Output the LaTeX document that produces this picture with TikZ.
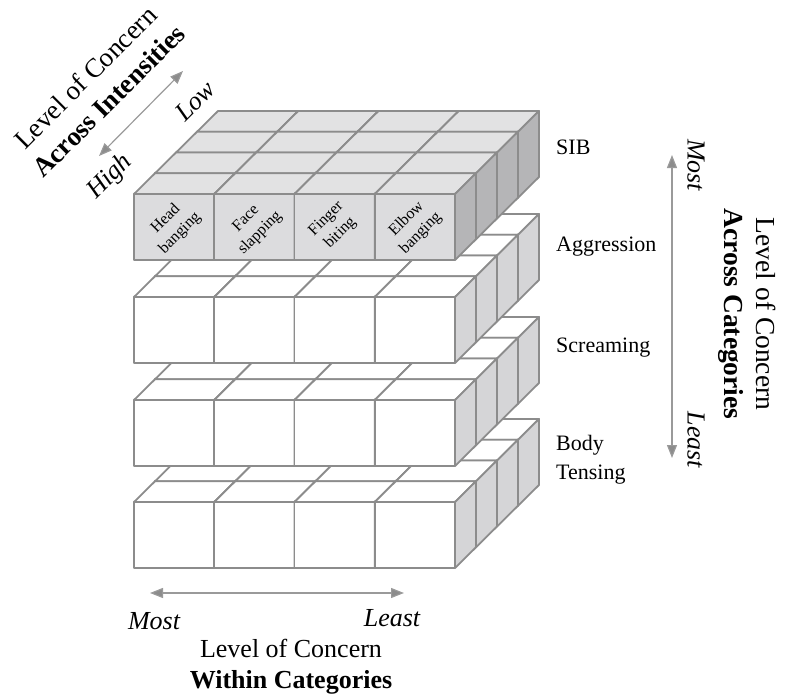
\documentclass[tikz,border=0pt]{standalone}
\usepackage{fontspec}
\setmainfont{Liberation Serif}
\usetikzlibrary{arrows.meta}

\definecolor{edge}{HTML}{8C8C8C}
\definecolor{arrowgray}{HTML}{9A9A9A}
\definecolor{sibfront}{HTML}{DCDCDE}
\definecolor{sibtop}{HTML}{E2E2E3}
\definecolor{sibside}{HTML}{B5B5B7}
\definecolor{lowside}{HTML}{D5D5D7}

% one layer of 4 x 4 cubes, painted back to front
% #1 y of the front top edge, #2 front fill, #3 top fill, #4 side fill
\newcommand\cubelayer[4]{%
  \foreach \d in {3,2,1,0}{%
    \foreach \i in {0,1,2,3}{%
      \pgfmathsetmacro\xa{134+80.25*\i+21*\d}%
      \pgfmathsetmacro\ya{#1-20.75*\d}%
      \draw[cube,fill=#2] (\xa,\ya) rectangle ++(80.25,66);
      \draw[cube,fill=#3] (\xa,\ya) -- ++(80.25,0) -- ++(21,-20.75) -- ++(-80.25,0) -- cycle;
      \draw[cube,fill=#4] (\xa+80.25,\ya) -- ++(0,66) -- ++(21,-20.75) -- ++(0,-66) -- cycle;
    }%
  }%
}

\begin{document}
\begin{tikzpicture}[x=1pt,y=-1pt,
  cube/.style={draw=edge,line width=1.8pt,line join=round},
  axistitle/.style={font=\fontsize{26}{31}\selectfont,align=center,inner sep=0pt},
  endlabel/.style={font=\fontsize{26}{31}\selectfont\itshape,inner sep=0pt},
  rowlabel/.style={font=\fontsize{22}{29}\selectfont,align=left,anchor=west,inner sep=0pt},
  cubelabel/.style={font=\fontsize{16}{20}\selectfont,align=center,inner sep=0pt,rotate=45},
  scale arrow/.style={draw=arrowgray,line width=1.2pt,
    {Triangle[length=13pt,width=10pt,fill=edge]}-{Triangle[length=13pt,width=10pt,fill=edge]}}]
\useasboundingbox (0,0) rectangle (785,697);

% stacked layers, lowest first
\cubelayer{502}{white}{white}{lowside}
\cubelayer{400}{white}{white}{lowside}
\cubelayer{297}{white}{white}{lowside}
\cubelayer{194}{sibfront}{sibtop}{sibside}

% behaviours on the front row of the top layer
\node[cubelabel] (hb) at (173,226) {Head\\banging};
\node[cubelabel] (fs) at (253.3,226) {Face\\slapping};
\node[cubelabel] (fb) at (333.5,226) {Finger\\biting};
\node[cubelabel] (eb) at (413.8,226) {Elbow\\banging};

% category names
\node[rowlabel] (sib) at (556,147) {SIB};
\node[rowlabel] (agg) at (556,247) {Aggression};
\node[rowlabel] (scr) at (556,348) {Screaming};
\node[rowlabel] (bod) at (556,460) {Body\\Tensing};

% across categories (vertical scale)
\coordinate (catTop) at (672,155);
\coordinate (catBot) at (672,458);
\draw[scale arrow] (catTop) -- (catBot);
\node[endlabel,rotate=-90] (catMost) at (696,165) {Most};
\node[endlabel,rotate=-90] (catLeast) at (696,440) {Least};
\node[axistitle,font=\fontsize{27.5}{32}\selectfont,rotate=-90] (catTitle) at (747,314) {Level of Concern\\\textbf{Across Categories}};

% within categories (horizontal scale)
\coordinate (inLeft) at (150,593);
\coordinate (inRight) at (404,593);
\draw[scale arrow] (inLeft) -- (inRight);
\node[endlabel] (inMost) at (154,621) {Most};
\node[endlabel] (inLeast) at (392,618) {Least};
\node[axistitle] (inTitle) at (291,667) {Level of Concern\\\textbf{Within Categories}};

% across intensities (diagonal scale)
\coordinate (intHigh) at (99,156);
\coordinate (intLow) at (183,71);
\draw[scale arrow] (intHigh) -- (intLow);
\node[endlabel,rotate=45] (intLowLbl) at (195,101) {Low};
\node[endlabel,rotate=45] (intHighLbl) at (110,177) {High};
\node[axistitle,font=\fontsize{27}{33}\selectfont,rotate=45] (intTitle) at (97,89) {Level of Concern\\\textbf{Across Intensities}};
\end{tikzpicture}
\end{document}
